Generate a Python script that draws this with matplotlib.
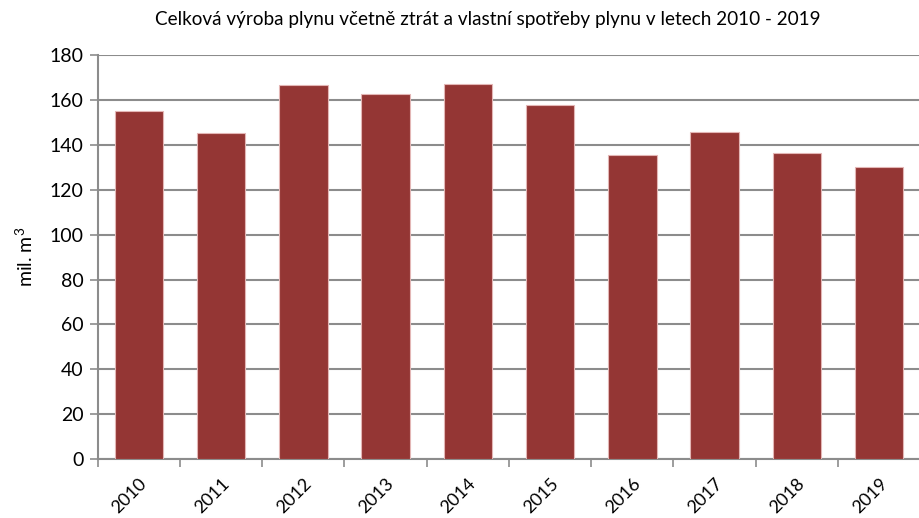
import matplotlib

matplotlib.use("Agg")
import matplotlib.pyplot as plt
import numpy as np

# Yearly values (mil. m3).
YEARS = ["2010", "2011", "2012", "2013", "2014", "2015", "2016", "2017", "2018", "2019"]
PRODUCTION = [155.2, 145.3, 166.8, 162.9, 167.3, 157.9, 135.5, 145.9, 136.5, 130.2]

Y_TICKS = [0, 20, 40, 60, 80, 100, 120, 140, 160, 180]
TITLE = "Celková výroba plynu včetně ztrát a vlastní spotřeby plynu v letech 2010 - 2019"
Y_LABEL = "mil. m$^3$"

COLOR_BAR = "#943634"  # Excel dark red
COLOR_BAR_EDGE = "#e3b6b5"
COLOR_GRID = "#8c8c8c"

plt.rcParams["font.family"] = ["Lato", "DejaVu Sans"]
plt.rcParams["mathtext.fontset"] = "custom"
plt.rcParams["mathtext.rm"] = "Lato"

fig = plt.figure(figsize=(9.19, 5.18), dpi=100)
ax = fig.add_axes([97.7 / 919, 59 / 518, 822.5 / 919, 403.7 / 518])

x = np.arange(len(YEARS))
ax.bar(x, PRODUCTION, width=1 / 1.7, color=COLOR_BAR, edgecolor=COLOR_BAR_EDGE, linewidth=0.8, zorder=3)

ax.set_xlim(-0.5, len(YEARS) - 0.5)
ax.set_ylim(0, 180)
ax.set_yticks(Y_TICKS)
ax.tick_params(axis="y", labelsize=14, length=6, width=1.2, color=COLOR_GRID, pad=4)

# Category labels centred under bars, tick marks on category boundaries.
ax.set_xticks(x)
ax.set_xticklabels(YEARS, rotation=45, ha="right", rotation_mode="anchor", fontsize=13)
ax.tick_params(axis="x", which="major", length=0, pad=12)
ax.set_xticks(np.arange(len(YEARS) + 1) - 0.5, minor=True)
ax.tick_params(axis="x", which="minor", length=6, width=1.2, color=COLOR_GRID)

ax.grid(axis="y", color=COLOR_GRID, linewidth=1.5, zorder=0)
for side in ("top", "right"):
    ax.spines[side].set_visible(False)
for side in ("left", "bottom"):
    ax.spines[side].set_color(COLOR_GRID)
    ax.spines[side].set_linewidth(1.5)

ax.set_ylabel(Y_LABEL, fontsize=14, labelpad=10)
fig.text(488 / 919, 1 - 19 / 518, TITLE, ha="center", va="center", fontsize=13.6)

fig.savefig("out.png", dpi=100)
